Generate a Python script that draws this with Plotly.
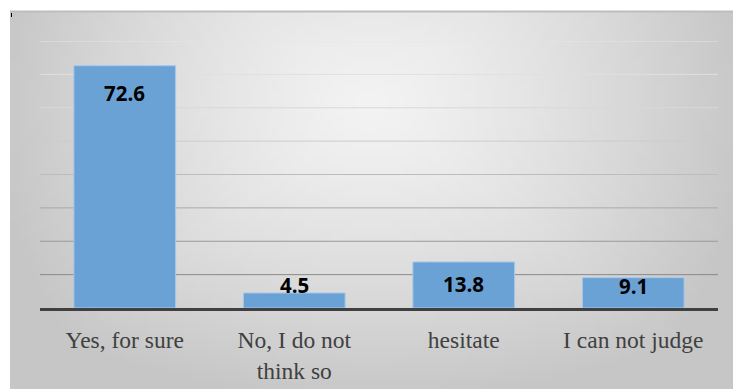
import base64, struct, zlib
import numpy as np
import plotly.graph_objects as go

# ---- data ----
categories = ["Yes, for sure", "No, I do not<br>think so", "hesitate", "I can not judge"]
values = [72.6, 4.5, 13.8, 9.1]
value_labels = ["72.6", "4.5", "13.8", "9.1"]
label_shift = [-27, 8, -22, -8]          # px offsets of data labels from bar top
grid_values = [10, 20, 30, 40, 50, 60, 70, 80]
grid_colors = ["#8a8a8a", "#999999", "#a9a9a9", "#bcbcbc", "#cdcdcd", "#d8d8d8", "#e0e0e0", "#e6e6e6"]

# ---- gradient background as PNG ----
W, H = 120, 64
xs = (np.arange(W) + 0.5) / W
ys = (np.arange(H) + 0.5) / H
X, Y = np.meshgrid(xs, ys)
dx = (X - 0.5) / 0.5
dy = (Y - 0.25) / 0.75
d = np.sqrt(0.55 * (dx ** 2 + dy ** 2) + 0.45 * np.maximum(np.abs(dx), np.abs(dy)) ** 2)
val = np.clip(243 - 42 * d ** 1.3, 198, 250).astype(np.uint8)

def make_png(arr):
    h, w = arr.shape
    raw = b"".join(b"\x00" + arr[r].tobytes() for r in range(h))
    def chunk(t, data):
        c = struct.pack(">I", len(data)) + t + data
        return c + struct.pack(">I", zlib.crc32(t + data) & 0xFFFFFFFF)
    return (b"\x89PNG\r\n\x1a\n" + chunk(b"IHDR", struct.pack(">IIBBBBB", w, h, 8, 0, 0, 0, 0))
            + chunk(b"IDAT", zlib.compress(raw, 9)) + chunk(b"IEND", b""))

img_src = "data:image/png;base64," + base64.b64encode(make_png(val)).decode()

# geometry (plot area: x 40..718, y 41..308 in a 733x389 page)
L, R, T, B = 40, 15, 41, 81
PW, PH = 733 - L - R, 389 - T - B
def px(x): return (x - L) / PW
def py(y): return (389 - B - y) / PH

SERIF = "Liberation Serif"

fig = go.Figure()
fig.add_trace(go.Bar(
    x=categories, y=values, width=0.6,
    marker=dict(color="#6aa2d6", line=dict(color="#a8c8ea", width=1)),
    hoverinfo="skip",
))

annotations = []
for c, v, t, s in zip(categories, values, value_labels, label_shift):
    annotations.append(dict(x=c, y=v, text="<b>" + t + "</b>", showarrow=False,
                            yanchor="middle", yshift=s,
                            font=dict(family="Open Sans", size=20.5, color="#000000")))

shapes = []
for g, col in zip(grid_values, grid_colors):
    shapes.append(dict(type="line", xref="paper", yref="y", x0=0, x1=1, y0=g, y1=g,
                       line=dict(color=col, width=1), layer="below"))
# top border of the chart container
shapes.append(dict(type="line", xref="paper", yref="paper", x0=px(10), x1=px(733),
                   y0=py(11.5), y1=py(11.5), line=dict(color="#bdbdbd", width=2), layer="below"))
shapes.append(dict(type="line", xref="paper", yref="paper", x0=px(11.5), x1=px(11.5),
                   y0=py(13), y1=py(17), line=dict(color="#000000", width=1), layer="above"))

fig.update_layout(
    width=733, height=389,
    margin=dict(l=L, r=R, t=T, b=B, autoexpand=False),
    font=dict(family=SERIF, size=23.5, color="#404040"),
    paper_bgcolor="#ffffff",
    plot_bgcolor="rgba(0,0,0,0)",
    showlegend=False,
    bargap=0.4,
    images=[dict(source=img_src, xref="paper", yref="paper",
                 x=px(10), y=py(11), sizex=px(733) - px(10), sizey=py(11) - py(389),
                 xanchor="left", yanchor="top", sizing="stretch", layer="below")],
    shapes=shapes,
    annotations=annotations,
    xaxis=dict(showline=True, linecolor="#404040", linewidth=3, ticks="",
               showgrid=False, zeroline=False, ticklabelstandoff=9, automargin=False,
               tickfont=dict(family=SERIF, size=23.5, color="#404040")),
    yaxis=dict(range=[0, 80], showgrid=False, zeroline=False, showticklabels=False,
               showline=False, ticks="", automargin=False),
)

fig.write_html("out.html")
